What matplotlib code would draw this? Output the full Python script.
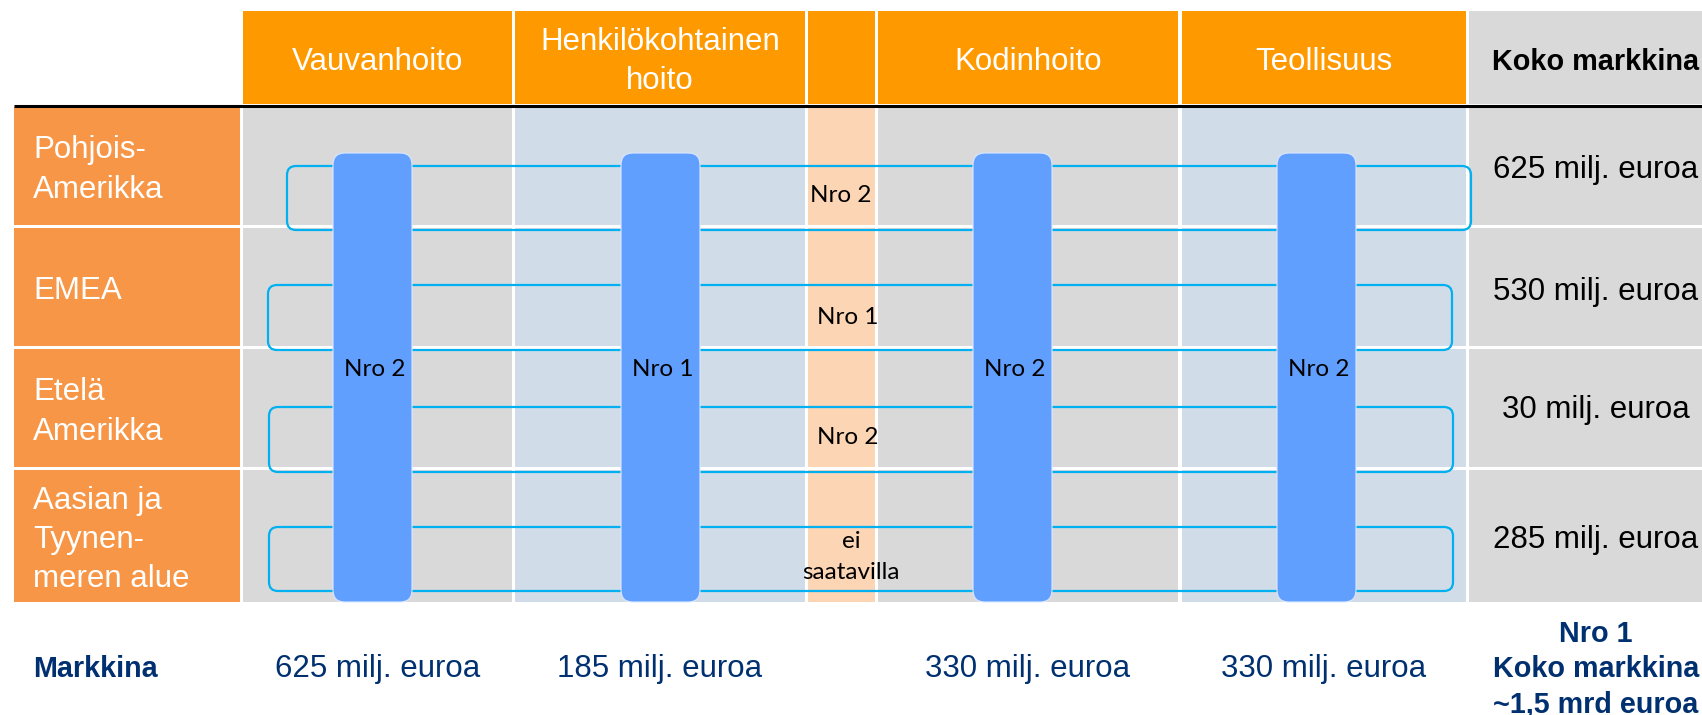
import matplotlib
matplotlib.use("Agg")
import matplotlib.pyplot as plt
from matplotlib.patches import Rectangle, FancyBboxPatch

# ---------------- data ----------------
categories = ["Vauvanhoito", "Henkilökohtainen\nhoito", "Kodinhoito", "Teollisuus"]
category_rank = ["Nro 2", "Nro 1", "Nro 2", "Nro 2"]
category_market = ["625 milj. euroa", "185 milj. euroa", "330 milj. euroa", "330 milj. euroa"]
regions = ["Pohjois-\nAmerikka", "EMEA", "Etelä\nAmerikka", "Aasian ja\nTyynen-\nmeren alue"]
region_rank = ["Nro 2", "Nro 1", "Nro 2", "ei\nsaatavilla"]
region_market = ["625 milj. euroa", "530 milj. euroa", "30 milj. euroa", "285 milj. euroa"]
total_header = "Koko markkina"
market_label = "Markkina"
total_summary = "Nro 1\nKoko markkina\n~1,5 mrd euroa"

# ---------------- layout (pixels) ----------------
W, H = 1702, 715
HEADER_ORANGE = "#FF9900"
ROW_ORANGE = "#F79646"
GREY = "#D9D9D9"
LBLUE = "#D0DCE8"
PEACH = "#FCD5B5"
CYAN = "#00B0F0"
BAR = "#619FFF"
NAVY = "#003070"

label_col = (14, 240)
cat_cols = [(243, 512), (515, 805), (878, 1178), (1182, 1466)]
cat_fill = [GREY, LBLUE, GREY, LBLUE]
mid_col = (808, 875)
total_col = (1469, 1712)
head_y = (11, 104)
rows = [(107, 225), (228, 346), (349, 467), (470, 602)]

bar_centers = [372.5, 660.5, 1012.5, 1316.5]
bar_w = 79
bar_top, bar_bot = 153, 602
region_boxes = [(287, 1471, 166, 230), (268, 1452, 285, 350),
                (269, 1453, 407, 472), (269, 1453, 527, 591)]
mid_text_x = [841, 848, 848, 851]
mid_text_y = [195, 317, 437, 557]
total_text_y = [170, 292, 410, 540]
total_text_x = 1596
bottom_y = 669
DY = 4  # vertical offset for Arial-like text

fig = plt.figure(figsize=(W / 100, H / 100), dpi=100)
ax = fig.add_axes([0, 0, 1, 1])
ax.set_xlim(0, W)
ax.set_ylim(H, 0)
ax.axis("off")

SANS = ["Liberation Sans", "DejaVu Sans"]
CAL = ["Lato", "DejaVu Sans"]


def rect(x0, x1, y0, y1, color, z=1):
    ax.add_patch(Rectangle((x0, y0), x1 - x0, y1 - y0, facecolor=color,
                           edgecolor="none", zorder=z))


# header cells
for (x0, x1), name in zip(cat_cols, categories):
    rect(x0, x1, *head_y, HEADER_ORANGE)
    ax.text((x0 + x1) / 2, sum(head_y) / 2 + DY, name, color="white", fontsize=22.5,
            family=SANS, ha="center", va="center", linespacing=1.4, zorder=5)
rect(*mid_col, *head_y, HEADER_ORANGE)
rect(*total_col, *head_y, GREY)
ax.text(total_text_x, sum(head_y) / 2 + DY + 1, total_header, color="black", fontsize=20.8,
        fontweight="bold", family=SANS, ha="center", va="center", zorder=5)

# black rule
ax.plot([label_col[0], W], [105.5, 105.5], color="black", lw=2.2, zorder=3,
        solid_capstyle="butt")

# body cells
for i, (y0, y1) in enumerate(rows):
    rect(*label_col, y0, y1, ROW_ORANGE)
    ax.text(33, (y0 + y1) / 2 + DY, regions[i], color="white", fontsize=22.5,
            family=SANS, ha="left", va="center", linespacing=1.4, zorder=5)
    for (x0, x1), c in zip(cat_cols, cat_fill):
        rect(x0, x1, y0, y1, c)
    rect(*mid_col, y0, y1, PEACH)
    rect(*total_col, y0, y1, GREY)
    ax.text(total_text_x, total_text_y[i], region_market[i],
            color="black", fontsize=22.5, family=SANS, ha="center", va="center",
            zorder=5)

# region ranking boxes
for (x0, x1, y0, y1) in region_boxes:
    ax.add_patch(FancyBboxPatch((x0, y0), x1 - x0, y1 - y0,
                                boxstyle="round,pad=0,rounding_size=9",
                                facecolor="none", edgecolor=CYAN, lw=1.6, zorder=4))
for i, txt in enumerate(region_rank):
    ax.text(mid_text_x[i], mid_text_y[i], txt, color="black", fontsize=17.5,
            family=CAL, ha="center", va="center", linespacing=1.55, zorder=7)

# category ranking bars
for cx, txt in zip(bar_centers, category_rank):
    ax.add_patch(FancyBboxPatch((cx - bar_w / 2, bar_top), bar_w, bar_bot - bar_top,
                                boxstyle="round,pad=0,rounding_size=12",
                                facecolor=BAR, edgecolor="#DCE7FF", lw=0.8, zorder=6))
    ax.text(cx + 2, 369, txt, color="black", fontsize=17.5, family=CAL,
            ha="center", va="center", zorder=7)

# bottom market row
ax.text(33, bottom_y, market_label, color=NAVY, fontsize=20.7, fontweight="bold",
        family=SANS, ha="left", va="center")
for (x0, x1), txt in zip(cat_cols, category_market):
    ax.text((x0 + x1) / 2, bottom_y, txt, color=NAVY, fontsize=22.5, family=SANS,
            ha="center", va="center")
ax.text(total_text_x, bottom_y, total_summary, color=NAVY, fontsize=20.7,
        fontweight="bold", family=SANS, ha="center", va="center", linespacing=1.33)

fig.savefig("out.png", dpi=100)
